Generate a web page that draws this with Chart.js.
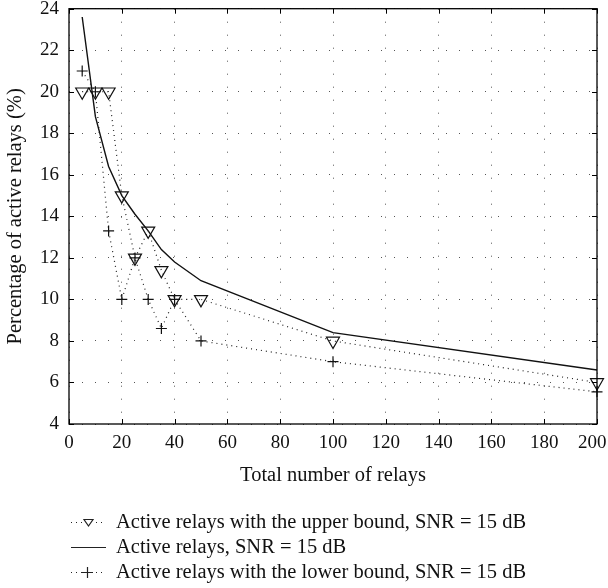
<!DOCTYPE html>
<html>
<head>
<meta charset="utf-8">
<script src="https://cdn.jsdelivr.net/npm/chart.js"></script>
<style>
  body { margin: 0; background: #fff; }
  .taille { width: 608px; height: 588px; }
</style>
</head>
<body>
<div class="taille">
  <canvas id="myChart"></canvas>
</div>
<script>
// values
const relays = [5, 10, 15, 20, 25, 30, 35, 40, 50, 100, 200];
const upperBound = [20, 20, 20, 15, 12, 13.3, 11.4, 10, 10, 8, 6];
const activeRelays = [23.6, 18.8, 16.4, 15.0, 14.1, 13.3, 12.4, 11.8, 10.9, 8.4, 6.6];
const lowerBound = [21, 20, 13.3, 10, 12, 10, 8.6, 10, 8, 7, 5.55];

const legendLabels = [
  'Active relays with the upper bound, SNR = 15 dB',
  'Active relays, SNR = 15 dB',
  'Active relays with the lower bound, SNR = 15 dB'
];

const serif = '"Liberation Serif", "DejaVu Serif", serif';
Chart.defaults.font.family = serif;
Chart.defaults.color = '#111';

function toPoints(ys) {
  return relays.map((x, i) => ({ x: x, y: ys[i] }));
}

// box, inward ticks and legend
const extras = {
  id: 'extras',
  afterDraw(chart) {
    const ctx = chart.ctx;
    const a = chart.chartArea;
    const xs = chart.scales.x;
    const ys = chart.scales.y;
    ctx.save();
    ctx.strokeStyle = '#000';
    ctx.lineWidth = 1.3;
    ctx.strokeRect(a.left, a.top, a.right - a.left, a.bottom - a.top);
    ctx.lineWidth = 1;
    ctx.beginPath();
    xs.ticks.forEach(t => {
      const px = Math.round(xs.getPixelForValue(t.value)) + 0.5;
      ctx.moveTo(px, a.bottom); ctx.lineTo(px, a.bottom - 5);
      ctx.moveTo(px, a.top); ctx.lineTo(px, a.top + 5);
    });
    ys.ticks.forEach(t => {
      const py = Math.round(ys.getPixelForValue(t.value)) + 0.5;
      ctx.moveTo(a.left, py); ctx.lineTo(a.left + 5, py);
      ctx.moveTo(a.right, py); ctx.lineTo(a.right - 5, py);
    });
    ctx.stroke();

    // legend
    const rows = [522.5, 547.5, 572.5];
    ctx.font = '20.5px ' + serif;
    ctx.textBaseline = 'middle';
    rows.forEach((y, i) => {
      ctx.strokeStyle = '#222';
      ctx.lineWidth = 1.2;
      ctx.setLineDash(i === 1 ? [] : [1, 4]);
      ctx.beginPath();
      ctx.moveTo(71, y); ctx.lineTo(106, y);
      ctx.stroke();
      ctx.setLineDash([]);
      if (i === 0) {
        ctx.fillStyle = '#fff';
        ctx.fillRect(82, y - 5, 13, 10);
        ctx.beginPath();
        ctx.moveTo(84, y - 3); ctx.lineTo(93, y - 3); ctx.lineTo(88.5, y + 3.5);
        ctx.closePath();
        ctx.stroke();
      } else if (i === 2) {
        ctx.fillStyle = '#fff';
        ctx.fillRect(82, y - 2, 12, 4);
        ctx.beginPath();
        ctx.moveTo(82, y); ctx.lineTo(93, y);
        ctx.moveTo(87.5, y - 5.5); ctx.lineTo(87.5, y + 5.5);
        ctx.stroke();
      }
      ctx.fillStyle = '#111';
      ctx.fillText(legendLabels[i], 116, y);
    });
    ctx.restore();
  }
};

const dataChart = {
  datasets: [
    {
      label: legendLabels[0],
      data: toPoints(upperBound),
      borderColor: '#222',
      borderWidth: 1.2,
      borderDash: [1, 4],
      pointStyle: 'triangle',
      rotation: 180,
      pointRadius: 7.5,
      pointBorderWidth: 1.2,
      pointBorderColor: '#111',
      pointBackgroundColor: 'rgba(0,0,0,0)',
      clip: false
    },
    {
      label: legendLabels[1],
      data: toPoints(activeRelays),
      borderColor: '#111',
      borderWidth: 1.4,
      pointRadius: 0,
      clip: false
    },
    {
      label: legendLabels[2],
      data: toPoints(lowerBound),
      borderColor: '#222',
      borderWidth: 1.2,
      borderDash: [1, 4],
      pointStyle: 'cross',
      pointRadius: 5.5,
      pointBorderWidth: 1.2,
      pointBorderColor: '#111',
      clip: false
    }
  ]
};

const gridLook = {
  color: '#555',
  lineWidth: 1,
  drawTicks: false
};

const configChart = {
  type: 'line',
  data: dataChart,
  options: {
    responsive: true,
    maintainAspectRatio: false,
    animation: false,
    layout: { padding: { top: 8, right: 11, bottom: 98, left: 0 } },
    plugins: {
      legend: { display: false },
      tooltip: { enabled: false }
    },
    scales: {
      x: {
        type: 'linear',
        min: 0,
        max: 200,
        ticks: {
          stepSize: 20, padding: 8, font: { size: 19 }, maxRotation: 0,
          // nudge the last label left so it stays inside the picture
          callback: v => v === 200 ? v + '\u2002' : v
        },
        grid: gridLook,
        border: { display: false, dash: [1, 12] },
        title: { display: true, text: 'Total number of relays', font: { size: 20.5 }, padding: { top: 0, bottom: 2 } },
        afterFit(s) { s.height = 66; s.paddingLeft = 0; s.paddingRight = 0; }
      },
      y: {
        type: 'linear',
        min: 4,
        max: 24,
        ticks: { stepSize: 2, padding: 10, font: { size: 19 } },
        grid: gridLook,
        border: { display: false, dash: [1, 12] },
        title: { display: true, text: 'Percentage of active relays (%)', font: { size: 20.5 }, padding: { top: 3, bottom: 0 } },
        afterFit(s) { s.width = 69; s.paddingTop = 0; s.paddingBottom = 0; }
      }
    }
  },
  plugins: [extras]
};

const myChart = new Chart(document.getElementById('myChart'), configChart);
</script>
</body>
</html>
